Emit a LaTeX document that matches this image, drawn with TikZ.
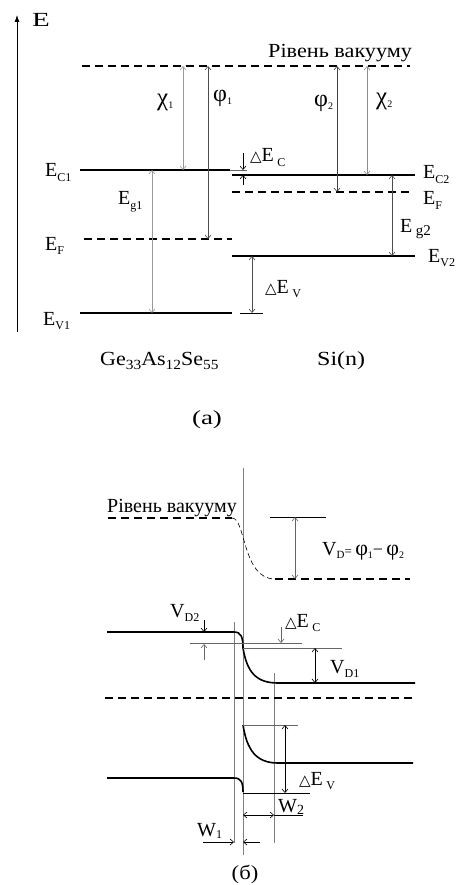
\documentclass[tikz,border=0pt]{standalone}
\usepackage{fontspec}
\setmainfont{Liberation Serif}
\newfontfamily\symfont{DejaVu Sans}
\usetikzlibrary{arrows.meta}
\newcommand\lsub[1]{\raisebox{-4.5pt}{\fontsize{12}{12}\selectfont #1}}
\newcommand\msub[1]{\raisebox{-4pt}{\fontsize{14}{14}\selectfont #1}}
\newcommand\gsub[1]{\raisebox{-3pt}{\fontsize{10}{10}\selectfont #1}}
\newcommand\tri{{\symfont\fontsize{15}{15}\selectfont △}}
\newcommand\gk[2]{{\fontsize{#1}{#1}\selectfont #2}}
\begin{document}
\begin{tikzpicture}[x=1pt,y=-1pt,
  band/.style={line width=1.6pt},
  dband/.style={line width=1.4pt, dash pattern=on 8pt off 5pt},
  iface/.style={line width=0.9pt, black!50},
  refl/.style={line width=0.6pt, black!60},
  darr/.style={line width=0.6pt, {Straight Barb[length=3.5pt,width=6pt]}-{Straight Barb[length=3.5pt,width=6pt]}},
  sarr/.style={line width=0.6pt, -{Straight Barb[length=3.5pt,width=6pt]}},
  lbl/.style={font=\fontsize{20}{22}\selectfont, inner sep=0pt, anchor=base west},
]
\useasboundingbox (0,0) rectangle (465,885);

% ===================== (a) =====================
\draw[line width=0.8pt, -{Latex[length=7pt,width=5pt]}] (17,332) -- (17,15);
\node[lbl] (E) at (32,27) {\scalebox{1.45}[1]{E}};

\draw[dband] (82,66) -- (410,66);
\node[lbl] (vac1) at (268,58) {\scalebox{1.11}[1]{Рівень вакууму}};

% levels left
\draw[band] (80,170) -- (230,170);
\draw[dband] (84,239) -- (232,239);
\draw[band] (80,313) -- (232,313);
% levels right
\draw[band] (232,175) -- (415,175);
\draw[dband] (232,192) -- (410,192);
\draw[band] (232,256) -- (415,256);

% small ticks
\draw[refl] (230,170) -- (247,170);
\draw[refl,black] (240,313) -- (263,313);

% arrows
\draw[darr, black!40] (183,66) -- (183,170);
\draw[darr, black!70] (208,66) -- (208,239);
\draw[darr, black!75] (337,66) -- (337,192);
\draw[darr, black!45] (367,66) -- (367,175);
\draw[darr, black!40] (152,170) -- (152,313);
\draw[darr, black!70] (392,175) -- (392,256);
\draw[darr, black!70] (252,256) -- (252,313);
\draw[sarr] (243,153) -- (243,170);
\draw[sarr] (243,185) -- (243,175);

% greek labels
\node[lbl] (chi1) at (157,106) {\gk{25}{χ}\gsub{1}};
\node[lbl] (phi1) at (213,102) {\gk{24}{φ}\gsub{1}};
\node[lbl] (phi2) at (314,107) {\gk{24}{φ}\gsub{2}};
\node[lbl] (chi2) at (376,105) {\gk{25}{χ}\gsub{2}};

% level labels
\node[lbl] (EC1) at (45,177) {E\lsub{C1}};
\node[lbl] (Eg1) at (118,205) {E\lsub{g1}};
\node[lbl] (EF1) at (45,250) {E\lsub{F}};
\node[lbl] (EV1) at (43,325) {E\lsub{V1}};
\node[lbl] (EC2) at (423,179) {E\lsub{C2}};
\node[lbl] (EF2) at (423,205) {E\lsub{F}};
\node[lbl] (Eg2) at (400,233) {E\,\raisebox{-3pt}{\fontsize{15}{15}\selectfont g2}};
\node[lbl] (EV2) at (428,262) {E\lsub{V2}};
\node[lbl] (dEC) at (250,162) {\tri E\,\lsub{C}};
\node[lbl] (dEV) at (265,293) {\tri E\,\lsub{V}};

\node[lbl] (mat1) at (100,365) {\scalebox{1.1}[1]{Ge\msub{33}As\msub{12}Se\msub{55}}};
\node[lbl] (mat2) at (317,365) {\scalebox{1.2}[1]{Si(n)}};
\node[lbl, anchor=base] (capa) at (207,424) {\scalebox{1.35}[1]{(a)}};

% ===================== (б) =====================
\draw[iface] (234,622) -- (234,843);
\draw[iface] (243,468) -- (243,855);
\draw[iface] (274,673) -- (274,843);

\draw[dband] (108,518) -- (232,518);
\draw[line width=0.6pt, dash pattern=on 5pt off 3pt] (232,518) .. controls (246,518) and (242,579) .. (275,579);
\draw[dband] (275,579) -- (410,579);
\node[lbl] (vac2) at (107,512) {Рівень вакууму};

\draw[refl,black] (270,517) -- (326,517);
\draw[darr, black!60] (295,517) -- (295,579);
\node[lbl] (VD) at (322,555) {V\raisebox{-3pt}{\fontsize{11}{11}\selectfont D}{\fontsize{13}{13}\selectfont =}\,\gk{22}{φ}\gsub{1}{\fontsize{18}{18}\selectfont −}\,\gk{22}{φ}\gsub{2}};

% conduction band
\draw[band] (107,632) -- (234,632) .. controls (241,632) and (243,637) .. (243,648)
  .. controls (247,672) and (256,683) .. (278,683) -- (415,683);
% fermi
\draw[dband] (105,698) -- (415,698);
% valence
\draw[band] (107,778) -- (234,778) .. controls (241,778) and (243,782) .. (243,792);
\draw[band] (243,725) .. controls (247,750) and (256,763) .. (278,763) -- (413,763);

% reference lines
\draw[refl] (190,643) -- (302,643);
\draw[refl] (243,648) -- (342,648);
\draw[refl] (243,725) -- (298,725);
\draw[refl,black] (243,793) -- (310,793);

% arrows
\draw[sarr] (204,620) -- (204,632);
\draw[sarr, black!60] (204,660) -- (204,644);
\draw[sarr, black!60] (281,627) -- (281,643);
\draw[darr] (315,648) -- (315,683);
\draw[darr] (285,725) -- (285,793);
\draw[darr] (243,815) -- (274,815);
\draw[refl,black] (274,815) -- (303,815);
\draw[sarr] (203,842) -- (234,842);
\draw[sarr] (260,842) -- (243,842);

\node[lbl] (VD2) at (170,617) {V\lsub{D2}};
\node[lbl] (dEC2) at (285,627) {\tri E\,\lsub{C}};
\node[lbl] (VD1) at (330,673) {V\lsub{D1}};
\node[lbl] (dEV2) at (299,785) {\tri E\,\lsub{V}};
\node[lbl] (W2) at (278,812) {W\raisebox{-2.5pt}{\fontsize{14}{14}\selectfont 2}};
\node[lbl] (W1) at (197,836) {W\raisebox{-2.5pt}{\fontsize{12}{12}\selectfont 1}};
\node[lbl, anchor=base] (capb) at (245,879) {\scalebox{1.13}[1]{(б)}};
\end{tikzpicture}
\end{document}
